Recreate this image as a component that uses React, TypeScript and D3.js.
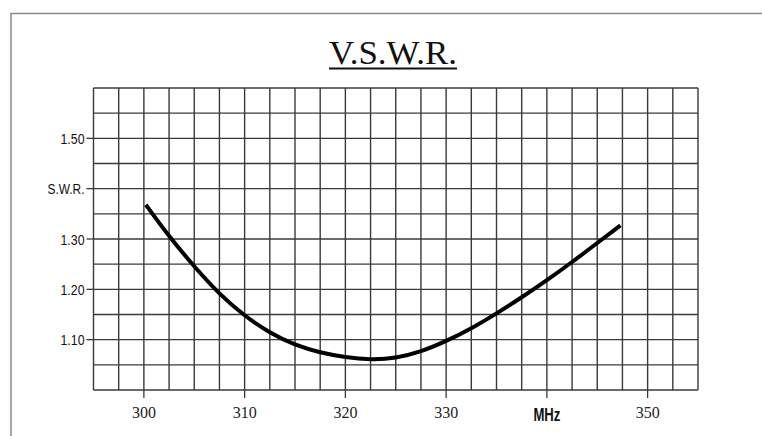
import { useMemo } from 'react';
import * as d3 from "d3";

const freqs = [300.2, 302.5, 305, 307.5, 310, 312.5, 315, 317.5, 320, 322.5, 325, 327.5, 330, 332.5, 335, 337.5, 340, 342.5, 345, 347.3];
const swrVals = [1.368, 1.305, 1.245, 1.190, 1.147, 1.113, 1.089, 1.074, 1.065, 1.060, 1.063, 1.076, 1.097, 1.122, 1.152, 1.184, 1.218, 1.254, 1.292, 1.327];

const xTicks = [300, 310, 320, 330, 340, 350];
const xTickLabels = ["300", "310", "320", "330", "MHz", "350"];
const yTicks = [1.1, 1.2, 1.3, 1.4, 1.5];
const yTickLabels = ["1.10", "1.20", "1.30", "S.W.R.", "1.50"];

const W = 762, H = 436;
const plot = { left: 93.5, right: 698, top: 88, bottom: 390 };

const App = () => {
  const x = useMemo(() => d3.scaleLinear().domain([295, 355]).range([plot.left, plot.right]), []);
  const y = useMemo(() => d3.scaleLinear().domain([1.0, 1.6]).range([plot.bottom, plot.top]), []);

  const vLines = d3.range(295, 355.01, 2.5);
  const hLines = d3.range(1.0, 1.6001, 0.05);

  const line = d3.line<number>()
    .x((d, i) => x(freqs[i]))
    .y(d => y(d))
    .curve(d3.curveBasis);

  const gridColor = "#3a3a3a";

  return (
    <svg width={W} height={H} style={{ position: "fixed", left: 0, top: 0, background: "#fff" }}>
      {/* page frame */}
      <path d={`M11,${H + 5} V13.5 H${W + 5}`} fill="none" stroke="#8a8a8a" strokeWidth={1.5} />

      {/* title */}
      <text x={393} y={63.5} textAnchor="middle" fontFamily="'Liberation Serif', 'DejaVu Serif', serif" fontSize={34} fill="#111" textLength={128} lengthAdjust="spacingAndGlyphs">V.S.W.R.</text>
      <line x1={329} x2={457} y1={68.5} y2={68.5} stroke="#111" strokeWidth={2.2} />

      {/* grid */}
      {vLines.map(v => (
        <line key={"v" + v} x1={x(v)} x2={x(v)} y1={plot.top} y2={plot.bottom} stroke={gridColor} strokeWidth={1.4} />
      ))}
      {hLines.map(v => (
        <line key={"h" + v.toFixed(2)} x1={plot.left} x2={plot.right} y1={y(v)} y2={y(v)} stroke={gridColor} strokeWidth={1.4} />
      ))}

      {/* x ticks */}
      {xTicks.map((t, i) => (
        <g key={"xt" + t}>
          <line x1={x(t)} x2={x(t)} y1={plot.bottom} y2={plot.bottom + 8} stroke={gridColor} strokeWidth={1.3} />
          {xTickLabels[i] === "MHz" ? (
            <text x={x(t)} y={421} textAnchor="middle" fontFamily="'Liberation Sans', Arial, sans-serif" fontWeight="bold" fontSize={17.5} fill="#111" textLength={27} lengthAdjust="spacingAndGlyphs">MHz</text>
          ) : (
            <text x={x(t)} y={418} textAnchor="middle" fontFamily="'Liberation Serif', serif" fontSize={16} fill="#222">{xTickLabels[i]}</text>
          )}
        </g>
      ))}

      {/* y ticks */}
      {yTicks.map((t, i) => (
        <g key={"yt" + t}>
          <line x1={plot.left - 7} x2={plot.left} y1={y(t)} y2={y(t)} stroke={gridColor} strokeWidth={1.3} />
          <text x={plot.left - 9} y={y(t) + 5.5} textAnchor="end" fontFamily="'Liberation Sans', Arial, sans-serif" fontSize={14.5} fill="#111"
            textLength={yTickLabels[i] === "S.W.R." ? 37 : 24} lengthAdjust="spacingAndGlyphs">{yTickLabels[i]}</text>
        </g>
      ))}

      {/* SWR curve */}
      <path d={line(swrVals) || ""} fill="none" stroke="#000" strokeWidth={4} strokeLinejoin="round" />
    </svg>
  );
};

export default App;
